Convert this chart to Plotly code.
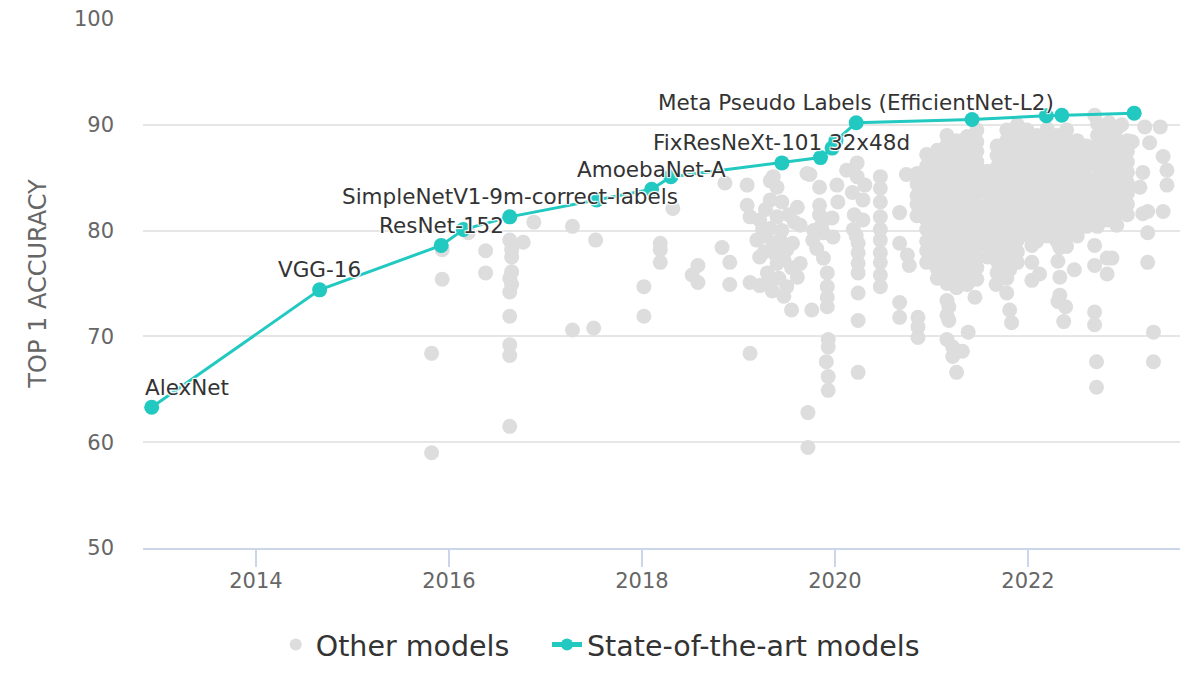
import plotly.graph_objects as go

# ---------------- DATA ----------------
sota_year = [2012.92, 2014.66, 2015.92, 2016.15, 2016.63, 2017.53, 2018.10, 2018.30,
             2019.45, 2019.85, 2019.97, 2020.01, 2020.22, 2021.42, 2022.19, 2022.35, 2023.10]
sota_acc = [63.3, 74.4, 78.6, 80.1, 81.3, 82.9, 83.9, 85.1,
            86.4, 86.9, 87.8, 88.5, 90.2, 90.5, 90.85, 90.9, 91.1]
sota_label = ["AlexNet", "VGG-16", "ResNet-152", "", "SimpleNetV1-9m-correct-labels", "",
              "AmoebaNet-A", "", "FixResNeXt-101 32x48d", "", "", "",
              "Meta Pseudo Labels (EfficientNet-L2)", "", "", "", ""]

# scattered "other" models
other_year = [
    2015.82, 2015.82, 2015.93, 2015.93, 2016.20, 2016.38, 2016.38,
    2016.63, 2016.65, 2016.65, 2016.65, 2016.63, 2016.65, 2016.63, 2016.63, 2016.63, 2016.63, 2016.63,
    2016.77, 2016.88, 2017.28, 2017.28, 2017.50, 2017.52,
    2018.02, 2018.02, 2018.19, 2018.19, 2018.19, 2018.32,
    2018.52, 2018.58, 2018.58, 2018.83, 2018.86, 2018.91, 2018.91,
    2019.09, 2019.09, 2019.12, 2019.12, 2019.19, 2019.22, 2019.22, 2019.25, 2019.30, 2019.33,
    2019.36, 2019.36, 2019.40, 2019.40, 2019.40, 2019.43, 2019.45, 2019.50, 2019.50, 2019.56,
    2019.61, 2019.61, 2019.64, 2019.64, 2019.30, 2019.22, 2019.12, 2019.55, 2019.76, 2019.72, 2019.72,
    2019.27, 2019.33, 2019.45, 2019.47, 2019.38, 2019.55, 2019.27, 2019.58, 2019.52, 2019.42,
    2019.35, 2019.47, 2019.28, 2019.33, 2019.71,
    2019.74, 2019.77, 2019.84, 2019.84, 2019.84, 2019.88, 2019.88, 2019.97, 2019.98,
    2019.92, 2019.92, 2019.92, 2019.92, 2019.93, 2019.93, 2019.91, 2019.93, 2019.93,
    2019.81, 2019.86, 2019.78,
    2020.02, 2020.03, 2020.12, 2020.18, 2020.19, 2020.23, 2020.23, 2020.24, 2020.24, 2020.24,
    2020.24, 2020.24, 2020.24, 2020.24, 2020.29, 2020.29, 2020.31, 2020.20, 2020.22,
    2020.47, 2020.47, 2020.47, 2020.47, 2020.47, 2020.47, 2020.47, 2020.47, 2020.47, 2020.47,
    2020.67, 2020.67, 2020.67, 2020.67, 2020.74, 2020.75, 2020.77,
    2020.86, 2020.86, 2020.86,
    2021.16, 2021.18, 2021.16, 2021.18, 2021.16, 2021.22, 2021.32, 2021.22, 2021.26,
    2021.38, 2021.45, 2021.67, 2021.78, 2021.81, 2021.83, 2021.81,
    2022.04, 2022.04, 2022.04, 2022.12,
    2022.33, 2022.31, 2022.33, 2022.48, 2022.33, 2022.31, 2022.39, 2022.37,
    2022.69, 2022.69, 2022.82, 2022.87, 2022.82,
    2022.69, 2022.69, 2022.71, 2022.71,
    2022.69, 2022.84, 2022.97,
    2023.21, 2023.37, 2023.08, 2023.26, 2023.40, 2023.19, 2023.16, 2023.44, 2023.44,
    2023.40, 2023.19, 2023.24, 2023.24, 2023.24, 2023.30, 2023.30,
]
other_acc = [
    68.4, 59.0, 78.2, 75.4, 79.8, 78.1, 76.0,
    79.1, 78.2, 77.5, 76.1, 75.5, 74.9, 74.2, 71.9, 69.2, 68.2, 61.5,
    78.9, 80.8, 80.4, 70.6, 70.8, 79.1,
    74.7, 71.9, 78.8, 78.2, 77.0, 82.1,
    75.8, 76.7, 75.1, 78.4, 84.5, 77.0, 74.9,
    84.3, 82.4, 81.3, 68.4, 79.1, 81.0, 77.5, 80.1, 76.0, 82.9,
    85.1, 78.8, 84.1, 81.3, 76.9, 79.1, 82.7, 78.2, 74.7, 78.8,
    82.2, 75.6, 80.5, 76.9, 75.1, 74.8, 75.1, 72.5, 72.5, 62.8, 59.5,
    79.5, 80.2, 80.0, 77.3, 77.8, 76.5, 78.0, 80.8, 81.5, 75.5,
    74.3, 73.8, 82.0, 84.7, 85.4,
    85.3, 79.1, 84.1, 82.4, 81.5, 79.8, 77.4, 81.2, 79.4,
    76.0, 74.7, 73.7, 72.8, 69.7, 69.0, 67.6, 66.2, 64.9,
    78.3, 80.5, 80.0,
    84.3, 82.7, 85.7, 83.6, 80.1, 86.4, 85.1, 78.8, 77.9, 76.9,
    76.0, 74.1, 71.5, 66.6, 82.9, 81.0, 84.3, 81.5, 79.5,
    85.1, 84.0, 82.7, 81.3, 80.1, 79.1, 77.9, 77.0, 74.7, 75.8,
    81.7, 78.8, 73.2, 71.8, 85.3, 77.7, 76.7,
    71.8, 70.9, 69.9,
    73.4, 72.8, 72.0, 71.5, 69.7, 69.0, 68.6, 68.1, 66.6,
    70.4, 73.7, 74.9, 74.1, 72.5, 71.3, 76.3,
    78.6, 77.0, 75.3, 75.9,
    78.4, 77.1, 75.6, 76.3, 73.9, 73.3, 72.8, 71.4,
    78.6, 76.7, 77.4, 77.4, 75.9,
    72.3, 71.1, 67.6, 65.2,
    90.9, 90.2, 90.0,
    89.8, 89.8, 88.4, 88.3, 87.0, 85.5, 84.1, 85.7, 84.3,
    81.8, 81.6, 81.8, 79.8, 77.0, 70.4, 67.6,
]

# dense cloud of 2021-2023 models, one column of dots per release period
blob_year = [2020.85, 2020.95, 2021.06, 2021.16, 2021.26, 2021.37, 2021.47, 2021.58,
             2021.68, 2021.78, 2021.89, 2021.99, 2022.09, 2022.20, 2022.30, 2022.40,
             2022.51, 2022.61, 2022.72, 2022.82, 2022.92, 2023.03]
blob_acc = [
    [85.4, 84.4, 83.3, 82.5, 81.4],
    [87.2, 86.1, 85.0, 84.1, 83.0, 82.1, 81.0, 80.1, 79.0, 78.1, 77.0],
    [87.6, 86.5, 85.6, 84.4, 83.5, 82.6, 81.5, 80.4, 79.5, 78.6, 77.5, 76.4, 75.5],
    [89.0, 88.1, 87.0, 86.1, 85.0, 83.9, 83.0, 82.1, 81.0, 80.0, 79.1, 78.0, 77.1, 76.0, 75.0],
    [88.5, 87.6, 86.4, 85.5, 84.6, 83.5, 82.4, 81.5, 80.6, 79.5, 78.4, 77.5, 76.6, 75.5, 74.6],
    [88.9, 87.8, 86.9, 85.8, 84.9, 83.8, 82.9, 81.8, 80.9, 79.8, 78.9, 77.8, 76.9, 75.8, 74.9],
    [89.5, 88.4, 87.5, 86.5, 85.4, 84.5, 83.5, 82.4, 81.5, 80.4, 79.5, 78.5, 77.4, 76.5, 75.4],
    [85.6, 84.6, 83.6, 82.5, 81.6, 80.6, 79.5, 78.6, 77.5],
    [88.0, 87.1, 86.0, 85.0, 84.1, 83.0, 82.0, 81.0, 80.1, 79.0, 78.0, 77.1, 76.0],
    [89.5, 88.5, 87.4, 86.5, 85.5, 84.4, 83.5, 82.5, 81.4, 80.5, 79.5, 78.4, 77.5, 76.5, 75.5],
    [90.0, 89.0, 88.0, 87.1, 86.0, 85.0, 84.0, 83.1, 82.0, 81.0, 80.0, 79.1, 78.0, 77.0],
    [89.5, 88.5, 87.4, 86.5, 85.4, 84.5, 83.4, 82.5, 81.5, 80.5, 79.6],
    [89.0, 88.1, 87.0, 86.0, 85.1, 84.0, 83.0, 82.1, 81.0, 80.0, 79.0],
    [89.6, 88.5, 87.5, 86.6, 85.5, 84.5, 83.6, 82.5, 81.5, 80.6, 79.5],
    [89.0, 88.0, 87.1, 86.0, 85.0, 84.1, 83.0, 82.0, 81.1, 80.0, 79.0],
    [89.5, 88.5, 87.5, 86.4, 85.5, 84.5, 83.4, 82.5, 81.5, 80.4, 79.5, 78.5],
    [88.5, 87.5, 86.6, 85.5, 84.5, 83.6, 82.5, 81.5, 80.6, 79.5],
    [88.0, 87.0, 86.1, 85.0, 84.0, 83.1, 82.0, 81.0, 80.4],
    [90.1, 89.0, 88.0, 87.0, 86.1, 85.0, 84.0, 83.0, 82.1, 81.0, 80.4],
    [90.0, 89.1, 88.0, 87.0, 86.0, 85.1, 84.0, 83.0, 82.0, 81.0],
    [89.6, 88.5, 87.5, 86.5, 85.6, 84.5, 83.5, 82.5, 81.6, 80.5],
    [88.5, 87.5, 86.5, 85.5, 84.5, 83.5, 82.5, 81.5],
]

x_ticks = [2014, 2016, 2018, 2020, 2022]
y_ticks = [50, 60, 70, 80, 90, 100]

# ---------------- BUILD ----------------
all_x = list(other_year)
all_y = list(other_acc)
for yr, col in zip(blob_year, blob_acc):
    all_x += [yr] * len(col)
    all_y += col

TEAL = "#22c9c1"
GRAY = "#dddddd"
FONT = "DejaVu Sans"

fig = go.Figure()
fig.add_trace(go.Scatter(
    x=all_x, y=all_y, mode="markers", name="Other models",
    marker=dict(color=GRAY, size=15, line=dict(width=0)),
    hoverinfo="skip", legend="legend"))
fig.add_trace(go.Scatter(
    x=sota_year, y=sota_acc, mode="lines+markers", name="State-of-the-art models",
    line=dict(color=TEAL, width=3),
    marker=dict(color=TEAL, size=15, line=dict(width=0)),
    hoverinfo="skip", legend="legend2"))

shadow = "1px 1px 1px #fff, -1px -1px 1px #fff, 1px -1px 1px #fff, -1px 1px 1px #fff"
for i, (xv, yv, lab) in enumerate(zip(sota_year, sota_acc, sota_label)):
    if not lab:
        continue
    first = (i == 0)
    fig.add_annotation(
        x=xv, y=yv, text=lab, showarrow=False,
        xanchor="left" if first else "center", yanchor="middle",
        xshift=-9 if first else 0, yshift=20,
        font=dict(family=FONT, size=21.5, color="#333333", shadow=shadow))

legend_style = dict(orientation="h", xanchor="left", yref="container", y=0.0786, yanchor="middle",
                    font=dict(family=FONT, size=28.5, color="#333333"),
                    itemsizing="constant", bgcolor="rgba(0,0,0,0)")

fig.update_layout(
    width=1200, height=700,
    margin=dict(l=143, r=20, t=19, b=152, autoexpand=False),
    paper_bgcolor="white", plot_bgcolor="white",
    font=dict(family=FONT, color="#666666"),
    showlegend=True,
    legend=dict(x=0.128, **legend_style),
    legend2=dict(x=0.3896, **legend_style),
    xaxis=dict(range=[2012.83, 2023.575], tickvals=x_ticks, ticktext=[str(t) for t in x_ticks],
               showgrid=False, zeroline=False, showline=True, linecolor="#ccd6eb", linewidth=2,
               ticks="outside", ticklen=17, tickwidth=2, tickcolor="#ccd6eb", ticklabelstandoff=-4,
               tickfont=dict(family=FONT, size=21, color="#666666")),
    yaxis=dict(range=[50, 100], tickvals=y_ticks, showgrid=True, gridcolor="#e6e6e6", gridwidth=1.5,
               zeroline=False, showline=False, ticks="", ticklabelstandoff=28,
               tickfont=dict(family=FONT, size=21, color="#666666"),
               title=dict(text="TOP 1 ACCURACY", standoff=20,
                          font=dict(family=FONT, size=24, color="#666666"))),
)

fig.write_html("out.html", config={"displayModeBar": False},
               post_script="document.body.style.margin='0';")
